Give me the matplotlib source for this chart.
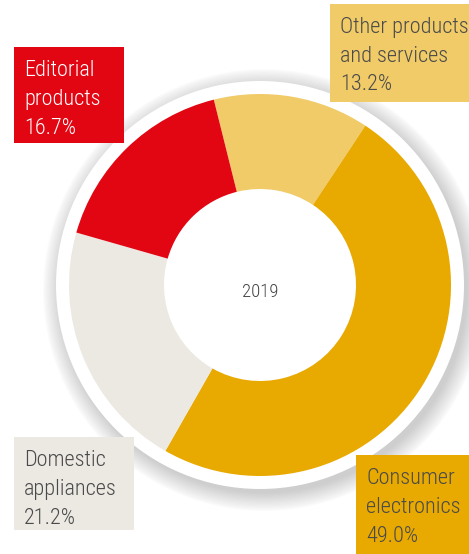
import matplotlib
matplotlib.use('Agg')
import matplotlib.pyplot as plt
from matplotlib.patches import Circle, Rectangle

# data (clockwise from the top)
categories = ['Other products\nand services', 'Consumer\nelectronics',
              'Domestic\nappliances', 'Editorial\nproducts']
shares = [13.2, 49.0, 21.2, 16.7]
colors = ['#F0CB68', '#E8A900', '#ECE9E3', '#E20613']
text_colors = ['#4a4a4a', '#4a4a4a', '#4a4a4a', '#ffffff']
center_label = '2019'

W, H = 469, 554
plt.rcParams['font.family'] = ['Roboto Condensed', 'Archivo Narrow', 'DejaVu Sans']
plt.rcParams['font.weight'] = 'light'

fig = plt.figure(figsize=[W / 100, H / 100], dpi=100)
ax = fig.add_axes([0, 0, 1, 1])

cx, cy = 260, H - 285
r_out, r_in = 191, 96

# soft shadow + white rim
for i in range(16):
    ax.add_patch(Circle((cx + 4, cy - 5), 203 + i * 1.2, color='#8a8a8a',
                        alpha=0.028, lw=0, zorder=1))
ax.add_patch(Circle((cx, cy), 204, color='white', lw=0, zorder=2))

wedges, _ = ax.pie(shares, colors=colors, startangle=104, counterclock=False,
                   center=(cx, cy), radius=r_out,
                   wedgeprops=dict(width=r_out - r_in, linewidth=0))
for w in wedges:
    w.set_zorder(3)

ax.text(cx, H - 292, center_label, ha='center', va='center', fontsize=13.5,
        color='#444444', zorder=4)

# label boxes: (left, top, width, height) in pixels from the top-left
boxes = [(330, 4, 139, 98), (356, 455, 113, 99), (14, 47, 110, 96), (14, 437, 120, 93)]
boxes = [boxes[0], boxes[1], boxes[3], boxes[2]]
for (x0, y0, bw, bh), cat, val, col, tcol in zip(boxes, categories, shares, colors, text_colors):
    ax.add_patch(Rectangle((x0, H - y0 - bh), bw, bh, color=col, lw=0, zorder=5))
    lines = cat.split('\n') + ['%.1f%%' % val]
    for k, line in enumerate(lines):
        ax.text(x0 + 10, H - (y0 + 24 + 28.5 * k), line, ha='left', va='center',
                fontsize=16, color=tcol, zorder=6)

ax.set_xlim(0, W)
ax.set_ylim(0, H)
ax.set_aspect('equal')
ax.axis('off')

fig.savefig('out.png', dpi=100)
